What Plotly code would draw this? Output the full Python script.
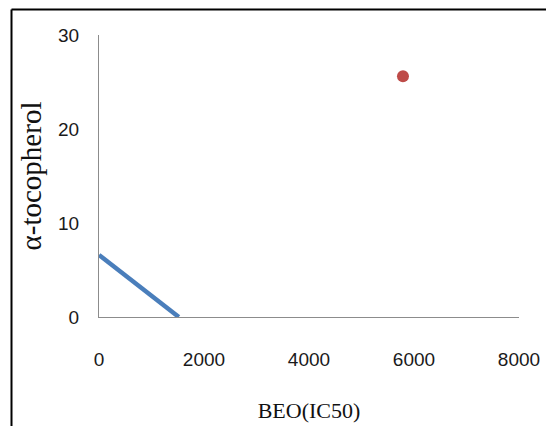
import plotly.graph_objects as go

# Data
line_x = [0, 1520]
line_y = [6.6, 0]
point_x = [5790]
point_y = [25.6]

x_ticks = [0, 2000, 4000, 6000, 8000]
y_ticks = [0, 10, 20, 30]

W, H = 546, 426
# plot area in window pixels: x 99..519, y 35..317
L = 99
R = W - 519
T = 35
B = H - 317
pw, ph = W - L - R, H - T - B

def px2paper_x(px):
    return (px - L) / pw

def px2paper_y(py):
    return (H - B - py) / ph

fig = go.Figure()
fig.add_trace(go.Scatter(x=line_x, y=line_y, mode="lines",
                         line=dict(color="#4A7EBB", width=4.5),
                         showlegend=False, hoverinfo="skip"))
fig.add_trace(go.Scatter(x=point_x, y=point_y, mode="markers",
                         marker=dict(color="#BE4B48", size=12),
                         showlegend=False))

tick_font = dict(family="Liberation Sans Narrow, Arial Narrow, Liberation Sans, sans-serif", size=19, color="#1a1a1a")
title_font = dict(family="Liberation Serif, Times New Roman, serif", color="#111111")

fig.update_layout(
    width=W, height=H,
    margin=dict(l=L, r=R, t=T, b=B, autoexpand=False),
    paper_bgcolor="white", plot_bgcolor="white",
    xaxis=dict(range=[0, 8000], tickvals=x_ticks, showgrid=False, zeroline=False,
               showline=True, linecolor="#8C8C8C", linewidth=1,
               ticks="", tickfont=tick_font, ticklabelstandoff=25,
               ticklabeloverflow="allow",
               title=dict(text="BEO(IC50)", font=dict(size=22, **title_font), standoff=33),
               automargin=False),
    yaxis=dict(range=[0, 30], tickvals=y_ticks, showgrid=False, zeroline=False,
               showline=True, linecolor="#8C8C8C", linewidth=1,
               ticks="", tickfont=tick_font, ticklabelstandoff=15,
               ticklabeloverflow="allow",
               title=dict(text="α-tocopherol", font=dict(size=29, **title_font), standoff=7),
               automargin=False),
    shapes=[
        dict(type="line", xref="paper", yref="paper",
             x0=px2paper_x(11.5), x1=px2paper_x(11.5),
             y0=px2paper_y(9.5), y1=px2paper_y(430),
             line=dict(color="black", width=2)),
        dict(type="line", xref="paper", yref="paper",
             x0=px2paper_x(11.5), x1=px2paper_x(550),
             y0=px2paper_y(9.5), y1=px2paper_y(9.5),
             line=dict(color="black", width=2)),
    ],
)

fig.write_html("out.html", config={"displayModeBar": False},
               post_script="document.body.style.margin='0';")
